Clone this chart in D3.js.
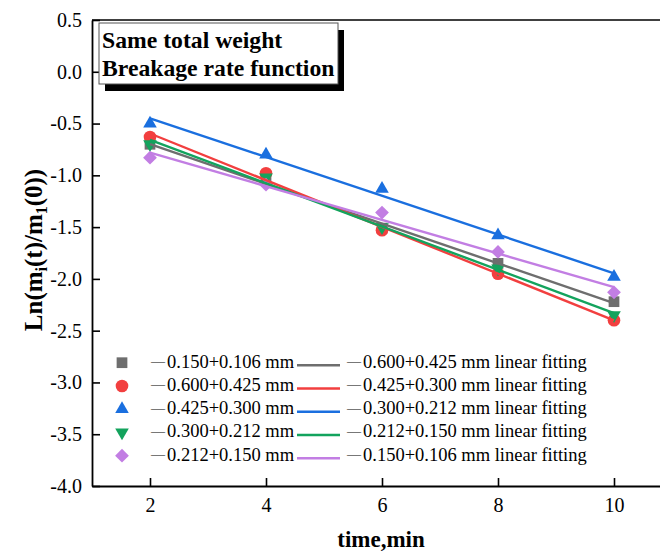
<!DOCTYPE html>
<html>
<head>
<meta charset="utf-8">
<script src="https://cdn.jsdelivr.net/npm/d3@7"></script>
<style>
  html, body { margin: 0; padding: 0; background: #fff; }
  svg { display: block; }
  text { font-family: "Liberation Serif", "Times New Roman", serif; fill: #000; }
</style>
</head>
<body>
<svg id="chart" width="660" height="553"></svg>
<script>
// Grinding time (min)
const times = [2, 4, 6, 8, 10];

// Size fractions, in draw / legend order
const fractionNames = ["0.150+0.106 mm", "0.600+0.425 mm", "0.425+0.300 mm", "0.300+0.212 mm", "0.212+0.150 mm"];
const fitNames = [
  "0.600+0.425 mm linear fitting",
  "0.425+0.300 mm linear fitting",
  "0.300+0.212 mm linear fitting",
  "0.212+0.150 mm linear fitting",
  "0.150+0.106 mm linear fitting"
];

// ln(m_i(t)/m_1(0)) per fraction
const gray   = [-0.70, -1.05, -1.51, -1.85, -2.22];
const red    = [-0.63, -0.98, -1.53, -1.95, -2.40];
const blue   = [-0.50, -0.80, -1.13, -1.58, -1.98];
const green  = [-0.70, -1.02, -1.50, -1.90, -2.35];
const purple = [-0.83, -1.09, -1.36, -1.74, -2.13];

const seriesValues = [gray, red, blue, green, purple];
const colors = ["#6e6e6e", "#f23f3f", "#1a6fdf", "#13a35d", "#c27ee3"];
const shapes = ["square", "circle", "triangleUp", "triangleDown", "diamond"];

// Axis ticks
const xTicks = [2, 4, 6, 8, 10];
const yTicks = [0.5, 0.0, -0.5, -1.0, -1.5, -2.0, -2.5, -3.0, -3.5, -4.0];

const serif = "Liberation Serif";
const svg = d3.select("#chart");
const plotLeft = 92, plotTop = 20, plotBottom = 486, plotRight = 672;

const x = d3.scaleLinear().domain([1, 11]).range([plotLeft, plotRight]);
const y = d3.scaleLinear().domain([-4, 0.5]).range([plotBottom, plotTop]);

const fmt = d3.formatLocale({ decimal: ".", thousands: ",", grouping: [3], currency: ["", ""], minus: "-" }).format(".1f");

function symbolPath(shape) {
  switch (shape) {
    case "square": return d3.symbol(d3.symbolSquare, 115)();
    case "circle": return d3.symbol(d3.symbolCircle, 125)();
    case "triangleUp":
    case "triangleDown": return d3.symbol(d3.symbolTriangle, 80)();
    case "diamond": return d3.symbol(d3.symbolSquare, 95)();
  }
}
function symbolRotate(shape) {
  return shape === "triangleDown" ? 180 : shape === "diamond" ? 45 : 0;
}

// Least-squares line through a series
function linearFit(xs, ys) {
  const mx = d3.mean(xs), my = d3.mean(ys);
  const sxy = d3.sum(xs, (v, i) => (v - mx) * (ys[i] - my));
  const sxx = d3.sum(xs, v => (v - mx) * (v - mx));
  const k = sxy / sxx;
  return { k, b: my - k * mx };
}

// Frame top edge
svg.append("line")
  .attr("x1", plotLeft).attr("x2", plotRight).attr("y1", plotTop).attr("y2", plotTop)
  .attr("stroke", "#000").attr("stroke-width", 1.6);

// Axes
const yAxis = svg.append("g")
  .attr("transform", `translate(${plotLeft},0)`)
  .call(d3.axisLeft(y).tickValues(yTicks).tickFormat(fmt).tickSizeInner(-8).tickSizeOuter(0).tickPadding(10));
const xAxis = svg.append("g")
  .attr("transform", `translate(0,${plotBottom})`)
  .call(d3.axisBottom(x).tickValues(xTicks).tickFormat(d3.format("d")).tickSizeInner(-8).tickSizeOuter(0).tickPadding(12));

[xAxis, yAxis].forEach(g => {
  g.attr("font-family", serif);
  g.select(".domain").attr("stroke", "#000").attr("stroke-width", 1.8);
  g.selectAll(".tick line").attr("stroke", "#000").attr("stroke-width", 1.6);
  g.selectAll(".tick text").attr("font-family", serif).attr("font-size", 20).attr("fill", "#000");
});

// Data markers
seriesValues.forEach((vals, si) => {
  svg.append("g").selectAll("path")
    .data(vals)
    .join("path")
    .attr("d", symbolPath(shapes[si]))
    .attr("transform", (v, i) => `translate(${x(times[i])},${y(v)}) rotate(${symbolRotate(shapes[si])})`)
    .attr("fill", colors[si]);
});

// Fitted lines
seriesValues.forEach((vals, si) => {
  const f = linearFit(times, vals);
  const x0 = times[0], x1 = times[times.length - 1];
  svg.append("line")
    .attr("x1", x(x0)).attr("y1", y(f.k * x0 + f.b))
    .attr("x2", x(x1)).attr("y2", y(f.k * x1 + f.b))
    .attr("stroke", colors[si]).attr("stroke-width", 2.4);
});

// Title box with drop shadow
const box = { x: 99, y: 23, w: 239, h: 61 };
svg.append("rect").attr("x", box.x + 6).attr("y", box.y + 7).attr("width", box.w).attr("height", box.h).attr("fill", "#000");
svg.append("rect").attr("x", box.x).attr("y", box.y).attr("width", box.w).attr("height", box.h)
  .attr("fill", "#fff").attr("stroke", "#555").attr("stroke-width", 1);
const titleLines = ["Same total weight", "Breakage rate function"];
svg.append("g").selectAll("text").data(titleLines).join("text")
  .attr("x", 102).attr("y", (d, i) => 47.5 + i * 28)
  .attr("font-family", serif).attr("font-size", 23.7).attr("font-weight", "bold").text(d => d);

// Legend entries: a short dash, then the fraction label
function dashLabel(sel, label) {
  sel.append("tspan").attr("font-size", 14).attr("dy", -1.5).text("—");
  sel.append("tspan").attr("dx", 2).attr("dy", 1.5).text(label);
}
const legRow0 = 362.7, legStep = 23.25;
const leg = svg.append("g").attr("font-family", serif);
fractionNames.forEach((name, i) => {
  const ry = legRow0 + i * legStep;
  leg.append("path").attr("d", symbolPath(shapes[i]))
    .attr("transform", `translate(122,${ry}) rotate(${symbolRotate(shapes[i])})`)
    .attr("fill", colors[i]);
  leg.append("text").attr("x", 151).attr("y", ry + 5).attr("font-size", 18.5).call(dashLabel, name);
  leg.append("line").attr("x1", 297).attr("x2", 340).attr("y1", ry + 2.5).attr("y2", ry + 2.5)
    .attr("stroke", colors[i]).attr("stroke-width", 2.4);
  leg.append("text").attr("x", 347).attr("y", ry + 5).attr("font-size", 18.5).call(dashLabel, fitNames[i]);
});

// Axis titles
svg.append("text").attr("x", 381).attr("y", 547).attr("text-anchor", "middle")
  .attr("font-family", serif).attr("font-size", 23).attr("font-weight", "bold").text("time,min");

const yTitle = svg.append("text")
  .attr("transform", "translate(42,250) rotate(-90)")
  .attr("text-anchor", "middle").attr("font-family", serif).attr("font-size", 25).attr("font-weight", "bold");
yTitle.append("tspan").text("Ln(m");
yTitle.append("tspan").attr("font-size", 16).attr("dy", 5).text("i");
yTitle.append("tspan").attr("dy", -5).text("(t)/m");
yTitle.append("tspan").attr("font-size", 16).attr("dy", 5).text("1");
yTitle.append("tspan").attr("dy", -5).text("(0))");
</script>
</body>
</html>
